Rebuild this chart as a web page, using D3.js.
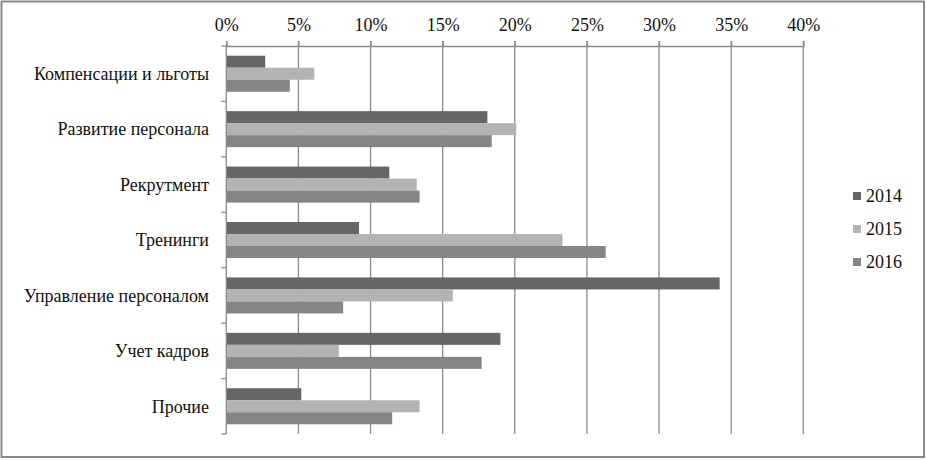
<!DOCTYPE html>
<html><head><meta charset="utf-8">
<script src="https://cdn.jsdelivr.net/npm/d3@7"></script>
<style>body{margin:0;background:#fff}svg{display:block}
svg text{font-family:"Liberation Serif","Times New Roman",Tinos,"DejaVu Serif",serif !important;}</style>
</head><body>
<svg id="c" width="926" height="460"></svg>
<script>
const categories = ["Компенсации и льготы","Развитие персонала","Рекрутмент","Тренинги","Управление персоналом","Учет кадров","Прочие"];
const years = ["2014","2015","2016"];
const values2014 = [2.7, 18.1, 11.3, 9.2, 34.2, 19.0, 5.2];
const values2015 = [6.1, 20.1, 13.2, 23.3, 15.7, 7.8, 13.4];
const values2016 = [4.4, 18.4, 13.4, 26.3, 8.1, 17.7, 11.5];
const xTicks = [0,5,10,15,20,25,30,35,40];

const series = [values2014, values2015, values2016];
const colors = ["#666666","#b3b3b3","#858585"];
const fs = 18;

const svg = d3.select("#c");
svg.append("rect").attr("x",1.5).attr("y",1.5).attr("width",922.5).attr("height",455.5)
  .attr("fill","#fff").attr("stroke","#8a8a8a").attr("stroke-width",2);

const pLeft=226.3, pRight=803.3, pTop=46, pBottom=434;
const x = d3.scaleLinear().domain([0,40]).range([pLeft,pRight]);
const y = d3.scaleBand().domain(categories).range([pTop,pBottom]).paddingInner(0.35).paddingOuter(0.175);
const ySub = d3.scaleBand().domain(years).range([0,y.bandwidth()]);

// gridlines
svg.append("g").selectAll("line").data(xTicks.slice(1)).join("line")
  .attr("x1",d=>x(d)).attr("x2",d=>x(d)).attr("y1",pTop-5).attr("y2",pBottom)
  .attr("stroke","#8a8a8a").attr("stroke-width",1.3);

// top axis
const xAxis = d3.axisTop(x).tickValues(xTicks).tickFormat(d=>d+"%").tickSize(5).tickPadding(10);
const gx = svg.append("g").attr("transform",`translate(0,${pTop})`).call(xAxis);
gx.attr("font-size",null).attr("font-family",null);
gx.select(".domain").attr("stroke","#8a8a8a").attr("stroke-width",1.3);
gx.selectAll(".tick line").attr("stroke","#8a8a8a").attr("stroke-width",1.3);
gx.selectAll("text").attr("font-size",fs).attr("fill","#111");

// bars
const groups = svg.append("g").selectAll("g").data(categories).join("g")
  .attr("transform",c=>`translate(0,${y(c)})`);
groups.selectAll("rect").data((c,i)=>years.map((yr,j)=>({yr,v:series[j][i],j}))).join("rect")
  .attr("x",x(0)).attr("y",d=>ySub(d.yr)).attr("height",ySub.bandwidth())
  .attr("width",d=>x(d.v)-x(0)).attr("fill",d=>colors[d.j]);

// left axis
const bounds = d3.range(categories.length+1).map(i=>pTop+i*(pBottom-pTop)/categories.length);
const gy = svg.append("g");
gy.append("line").attr("x1",pLeft).attr("x2",pLeft).attr("y1",pTop).attr("y2",pBottom)
  .attr("stroke","#8a8a8a").attr("stroke-width",1.3);
gy.selectAll("line.t").data(bounds).join("line").attr("class","t")
  .attr("x1",pLeft-5).attr("x2",pLeft).attr("y1",d=>d).attr("y2",d=>d)
  .attr("stroke","#8a8a8a").attr("stroke-width",1.3);
gy.selectAll("text").data(categories).join("text")
  .attr("x",209).attr("y",c=>y(c)+y.bandwidth()/2).attr("dy","0.35em")
  .attr("text-anchor","end").attr("font-size",fs).attr("fill","#111")
  .text(d=>d);

// legend
const lg = svg.append("g").selectAll("g").data(years).join("g")
  .attr("transform",(d,i)=>`translate(853,${196+i*33})`);
lg.append("rect").attr("x",0).attr("y",-4).attr("width",8).attr("height",8).attr("fill",(d,i)=>colors[i]);
lg.append("text").attr("x",13).attr("y",0).attr("dy","0.35em")
  .attr("font-size",fs).attr("fill","#111").text(d=>d);
</script>
</body></html>
